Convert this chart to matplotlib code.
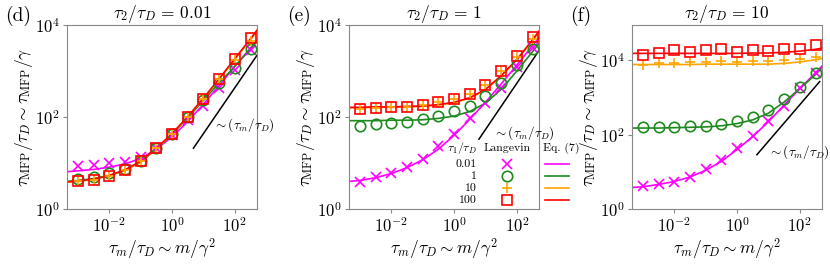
import matplotlib.pyplot as plt
import numpy as np

plt.rcParams["font.family"] = "serif"
plt.rcParams["font.serif"] = ["cmr10"]
plt.rcParams["mathtext.fontset"] = "cm"
plt.rcParams["axes.formatter.use_mathtext"] = True

# Langevin sample points (tau_m/tau_D)
x_pts = [1e-3, 3.16e-3, 1e-2, 3.16e-2, 0.1, 0.316, 1, 3.16, 10, 31.6, 100, 316]
# Eq. (7) curve points
x_line = [4.5e-4, 1e-3, 3.16e-3, 1e-2, 3.16e-2, 0.1, 0.316, 1, 3.16, 10, 31.6, 100, 316, 510]

tau1_labels = ["0.01", "1", "10", "100"]
colors = ["#ff00ff", "#1f8a1f", "orange", "red"]
markers = ["x", "o", "+", "s"]

# log10 of tau_MFP/tau_D
# panel (d): tau2/tauD = 0.01
d_pts = [
    [0.94, 0.96, 0.99, 1.03, 1.14, 1.32, 1.61, 1.93, 2.24, 2.64, 3.02, 3.46],
    [0.65, 0.69, 0.78, 0.86, 1.05, 1.32, 1.64, 1.99, 2.37, 2.73, 3.06, 3.47],
    [0.61, 0.63, 0.72, 0.85, 1.05, 1.32, 1.64, 1.99, 2.39, 2.82, 3.24, 3.66],
    [0.61, 0.62, 0.72, 0.84, 1.04, 1.32, 1.63, 1.99, 2.40, 2.82, 3.26, 3.72],
]
d_line = [
    [0.81, 0.83, 0.86, 0.91, 0.98, 1.10, 1.30, 1.57, 1.90, 2.28, 2.68, 3.10, 3.50, 3.68],
    [0.60, 0.62, 0.66, 0.73, 0.84, 1.02, 1.30, 1.62, 1.98, 2.36, 2.74, 3.10, 3.48, 3.65],
    [0.58, 0.60, 0.64, 0.72, 0.84, 1.03, 1.31, 1.63, 2.00, 2.40, 2.82, 3.25, 3.68, 3.86],
    [0.59, 0.61, 0.65, 0.73, 0.85, 1.04, 1.32, 1.64, 2.01, 2.41, 2.83, 3.27, 3.70, 3.89],
]
# panel (e): tau2/tauD = 1
e_pts = [
    [0.59, 0.70, 0.79, 0.92, 1.08, 1.38, 1.62, 1.97, 2.30, 2.64, 3.08, 3.51],
    [1.80, 1.84, 1.86, 1.90, 1.95, 2.02, 2.12, 2.24, 2.46, 2.73, 3.12, 3.47],
    [2.17, 2.19, 2.22, 2.22, 2.26, 2.33, 2.40, 2.50, 2.70, 2.99, 3.31, 3.70],
    [2.17, 2.19, 2.22, 2.22, 2.26, 2.33, 2.40, 2.50, 2.70, 2.99, 3.33, 3.75],
]
e_line = [
    [0.60, 0.62, 0.68, 0.77, 0.90, 1.07, 1.30, 1.60, 1.95, 2.32, 2.72, 3.13, 3.55, 3.73],
    [1.92, 1.92, 1.92, 1.93, 1.93, 1.94, 1.97, 2.02, 2.12, 2.30, 2.60, 3.00, 3.42, 3.60],
    [2.20, 2.20, 2.21, 2.21, 2.22, 2.23, 2.26, 2.31, 2.41, 2.59, 2.89, 3.24, 3.66, 3.84],
    [2.21, 2.21, 2.22, 2.22, 2.23, 2.24, 2.27, 2.32, 2.42, 2.60, 2.90, 3.25, 3.68, 3.87],
]
# panel (f): tau2/tauD = 10
f_pts = [
    [0.62, 0.68, 0.74, 0.87, 1.07, 1.32, 1.64, 1.97, 2.36, 2.77, 3.26, 3.67],
    [2.20, 2.20, 2.21, 2.23, 2.24, 2.30, 2.36, 2.48, 2.66, 2.95, 3.28, 3.65],
    [3.89, 3.92, 3.94, 3.96, 3.96, 3.98, 3.97, 3.98, 3.99, 4.00, 4.03, 4.10],
    [4.14, 4.21, 4.28, 4.23, 4.28, 4.30, 4.22, 4.28, 4.25, 4.30, 4.32, 4.41],
]
f_line = [
    [0.58, 0.60, 0.66, 0.74, 0.86, 1.04, 1.28, 1.60, 1.95, 2.35, 2.80, 3.24, 3.67, 3.85],
    [2.18, 2.18, 2.18, 2.19, 2.20, 2.21, 2.24, 2.30, 2.40, 2.58, 2.88, 3.24, 3.62, 3.80],
    [3.89, 3.89, 3.89, 3.89, 3.89, 3.90, 3.90, 3.90, 3.90, 3.90, 3.92, 3.96, 4.02, 4.05],
    [4.19, 4.19, 4.19, 4.19, 4.19, 4.19, 4.19, 4.19, 4.20, 4.20, 4.22, 4.25, 4.30, 4.33],
]

# ~ tau_m/tau_D guide lines
d_ref = ([4.8, 510], [21, 2200])
e_ref = ([6.2, 510], [33, 2800])
f_ref = ([4.3, 430], [29, 2700])

panels = [
    ("(d)", r"$\tau_2/\tau_D\, =\, 0.01$", d_pts, d_line, d_ref, (1, 1e4), (0.77, 0.457)),
    ("(e)", r"$\tau_2/\tau_D\, =\, 1$", e_pts, e_line, e_ref, (1, 1e4), (0.758, 0.413)),
    ("(f)", r"$\tau_2/\tau_D\, =\, 10$", f_pts, f_line, f_ref, (1, 9e4), (0.717, 0.31)),
]
lefts = [0.0807, 0.4205, 0.7614]

fig = plt.figure(figsize=(8.3, 2.64), dpi=100)
axes = []
for (tag, title, pts, line, ref, ylim, txt), left in zip(panels, lefts):
    ax = fig.add_axes([left, 0.2083, 0.229, 0.697])
    axes.append(ax)
    ax.set_xscale("log")
    ax.set_yscale("log")
    for i in range(4):
        ax.plot(x_line, 10 ** np.array(line[i]), color=colors[i], lw=1.2, zorder=2)
    for i in range(4):
        ax.plot(x_pts, 10 ** np.array(pts[i]), ls="none", marker=markers[i],
                ms=7.5 if markers[i] != "s" else 7, mfc="none", mec=colors[i],
                mew=1.2, zorder=3)
    ax.plot(ref[0], ref[1], color="black", lw=1.1)
    ax.text(txt[0], txt[1], r"$\sim(\tau_m/\tau_D)$", transform=ax.transAxes,
            fontsize=9.5, va="center", ha="left")
    ax.set_xlim(4.5e-4, 5.1e2)
    ax.set_ylim(*ylim)
    ax.set_xticks([1e-2, 1, 1e2])
    ax.set_yticks([1, 1e2, 1e4])
    ax.minorticks_off()
    ax.tick_params(labelsize=12, color="#888888", length=3, width=0.8, pad=2)
    for s in ax.spines.values():
        s.set_color("#888888")
    ax.set_xlabel(r"$\tau_m/\tau_D \sim m/\gamma^2$", fontsize=12.5, labelpad=1)
    ax.set_ylabel(r"$\tau_{\rm MFP}/\tau_D \sim \tau_{\rm MFP}/\gamma$", fontsize=12.5, labelpad=0)
    ax.set_title(title, fontsize=12.5, pad=4)
    fig.text(left - 0.075, 0.94, tag, fontsize=14, va="center", ha="left")

# legend table in panel (e)
ax = axes[1]
row_y = [0.245, 0.179, 0.114, 0.049]
ax.text(0.674, 0.33, r"$\tau_1/\tau_D$", transform=ax.transAxes, fontsize=8.5,
        ha="right", va="center")
ax.text(0.83, 0.33, "Langevin", transform=ax.transAxes, fontsize=8.5,
        ha="center", va="center")
ax.text(1.02, 0.33, "Eq. (7)", transform=ax.transAxes, fontsize=8.5,
        ha="left", va="center", clip_on=False)
for i in range(4):
    ax.text(0.674, row_y[i], tau1_labels[i], transform=ax.transAxes, fontsize=8.5,
            ha="right", va="center")
    ax.plot([0.83], [row_y[i]], transform=ax.transAxes, marker=markers[i],
            ms=7.5 if markers[i] != "s" else 7, mfc="none", mec=colors[i], mew=1.2,
            ls="none", clip_on=False)
    ax.plot([1.03, 1.16], [row_y[i], row_y[i]], transform=ax.transAxes,
            color=colors[i], lw=1.2, clip_on=False)

fig.savefig("out.png", dpi=100)
